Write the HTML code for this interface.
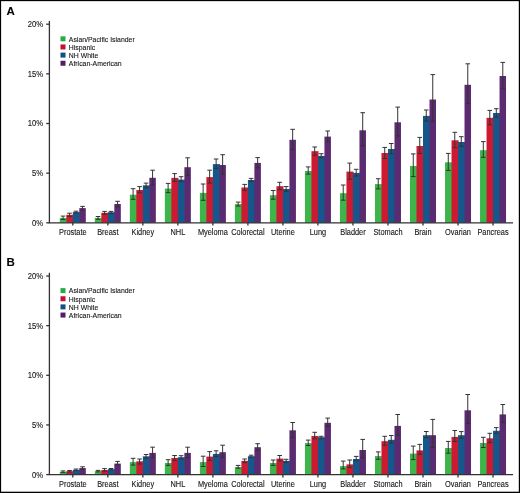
<!DOCTYPE html>
<html><head><meta charset="utf-8"><style>
html,body{margin:0;padding:0;background:#fff;}
body{width:520px;height:493px;overflow:hidden;}
svg{display:block;will-change:transform;}
text{font-family:"Liberation Sans",sans-serif;fill:#151515;stroke:#151515;stroke-width:0.1px;}
.xl{font-size:7.4px;text-anchor:middle;}
.yl{font-size:7.7px;text-anchor:end;}
.lg{font-size:6.9px;}
.pl{font-size:11.5px;font-weight:bold;fill:#000;}
.ax{stroke:#333;stroke-width:1.3;fill:none;}
.eb{stroke:#333;stroke-width:1.0;fill:none;}
</style></head><body>
<svg width="520" height="493" viewBox="0 0 520 493">
<rect x="0" y="0" width="520" height="1.15" fill="#000"/><rect x="0" y="0" width="1.1" height="493" fill="#000"/><rect x="518.8" y="0" width="1.2" height="493" fill="#000"/><rect x="0" y="491.7" width="520" height="1.3" fill="#000"/>
<text x="6.6" y="14.75" class="pl">A</text>
<rect x="59.80" y="217.90" width="7.10" height="4.90" fill="#3db54a"/>
<rect x="66.30" y="214.80" width="7.10" height="8.00" fill="#cc1a32"/>
<rect x="72.80" y="212.10" width="7.10" height="10.70" fill="#15578a"/>
<rect x="79.30" y="208.10" width="6.50" height="14.70" fill="#5c2a70"/>
<path d="M63.05 216.10V219.50M60.75 216.10H65.35M60.75 219.50H65.35" class="eb"/>
<path d="M69.55 213.20V216.40M67.25 213.20H71.85M67.25 216.40H71.85" class="eb"/>
<path d="M76.05 211.20V213.00M73.75 211.20H78.35M73.75 213.00H78.35" class="eb"/>
<path d="M82.55 206.40V210.20M80.25 206.40H84.85M80.25 210.20H84.85" class="eb"/>
<path d="M72.8 222.8V225.60000000000002" class="ax"/>
<text transform="translate(72.80 234.70) scale(1 1.1)" class="xl">Prostate</text>
<rect x="94.82" y="217.90" width="7.10" height="4.90" fill="#3db54a"/>
<rect x="101.32" y="212.80" width="7.10" height="10.00" fill="#cc1a32"/>
<rect x="107.82" y="212.20" width="7.10" height="10.60" fill="#15578a"/>
<rect x="114.32" y="204.00" width="6.50" height="18.80" fill="#5c2a70"/>
<path d="M98.07 216.50V219.30M95.77 216.50H100.37M95.77 219.30H100.37" class="eb"/>
<path d="M104.57 211.40V214.20M102.27 211.40H106.87M102.27 214.20H106.87" class="eb"/>
<path d="M111.07 211.40V213.60M108.77 211.40H113.37M108.77 213.60H113.37" class="eb"/>
<path d="M117.57 201.30V206.70M115.27 201.30H119.87M115.27 206.70H119.87" class="eb"/>
<path d="M107.82 222.8V225.60000000000002" class="ax"/>
<text transform="translate(107.82 234.70) scale(1 1.1)" class="xl">Breast</text>
<rect x="129.84" y="194.70" width="7.10" height="28.10" fill="#3db54a"/>
<rect x="136.34" y="190.00" width="7.10" height="32.80" fill="#cc1a32"/>
<rect x="142.84" y="185.30" width="7.10" height="37.50" fill="#15578a"/>
<rect x="149.34" y="177.80" width="6.50" height="45.00" fill="#5c2a70"/>
<path d="M133.09 188.70V199.30M130.79 188.70H135.39M130.79 199.30H135.39" class="eb"/>
<path d="M139.59 186.60V192.80M137.29 186.60H141.89M137.29 192.80H141.89" class="eb"/>
<path d="M146.09 183.10V187.70M143.79 183.10H148.39M143.79 187.70H148.39" class="eb"/>
<path d="M152.59 170.20V185.10M150.29 170.20H154.89M150.29 185.10H154.89" class="eb"/>
<path d="M142.84 222.8V225.60000000000002" class="ax"/>
<text transform="translate(142.84 234.70) scale(1 1.1)" class="xl">Kidney</text>
<rect x="164.86" y="188.60" width="7.10" height="34.20" fill="#3db54a"/>
<rect x="171.36" y="177.90" width="7.10" height="44.90" fill="#cc1a32"/>
<rect x="177.86" y="179.60" width="7.10" height="43.20" fill="#15578a"/>
<rect x="184.36" y="167.20" width="6.50" height="55.60" fill="#5c2a70"/>
<path d="M168.11 183.40V192.60M165.81 183.40H170.41M165.81 192.60H170.41" class="eb"/>
<path d="M174.61 173.60V181.40M172.31 173.60H176.91M172.31 181.40H176.91" class="eb"/>
<path d="M181.11 176.70V181.40M178.81 176.70H183.41M178.81 181.40H183.41" class="eb"/>
<path d="M187.61 157.80V175.50M185.31 157.80H189.91M185.31 175.50H189.91" class="eb"/>
<path d="M177.86 222.8V225.60000000000002" class="ax"/>
<text transform="translate(177.86 234.70) scale(1 1.1)" class="xl">NHL</text>
<rect x="199.88" y="192.90" width="7.10" height="29.90" fill="#3db54a"/>
<rect x="206.38" y="177.10" width="7.10" height="45.70" fill="#cc1a32"/>
<rect x="212.88" y="164.10" width="7.10" height="58.70" fill="#15578a"/>
<rect x="219.38" y="165.00" width="6.50" height="57.80" fill="#5c2a70"/>
<path d="M203.13 184.00V200.30M200.83 184.00H205.43M200.83 200.30H205.43" class="eb"/>
<path d="M209.63 170.20V183.10M207.33 170.20H211.93M207.33 183.10H211.93" class="eb"/>
<path d="M216.13 159.00V168.40M213.83 159.00H218.43M213.83 168.40H218.43" class="eb"/>
<path d="M222.63 154.70V174.00M220.33 154.70H224.93M220.33 174.00H224.93" class="eb"/>
<path d="M212.88 222.8V225.60000000000002" class="ax"/>
<text transform="translate(212.88 234.70) scale(1 1.1)" class="xl">Myeloma</text>
<rect x="234.90" y="204.10" width="7.10" height="18.70" fill="#3db54a"/>
<rect x="241.40" y="187.50" width="7.10" height="35.30" fill="#cc1a32"/>
<rect x="247.90" y="180.00" width="7.10" height="42.80" fill="#15578a"/>
<rect x="254.40" y="162.90" width="6.50" height="59.90" fill="#5c2a70"/>
<path d="M238.15 202.10V206.10M235.85 202.10H240.45M235.85 206.10H240.45" class="eb"/>
<path d="M244.65 184.40V190.30M242.35 184.40H246.95M242.35 190.30H246.95" class="eb"/>
<path d="M251.15 178.40V181.40M248.85 178.40H253.45M248.85 181.40H253.45" class="eb"/>
<path d="M257.65 157.60V167.80M255.35 157.60H259.95M255.35 167.80H259.95" class="eb"/>
<path d="M247.90000000000003 222.8V225.60000000000002" class="ax"/>
<text transform="translate(247.90 234.70) scale(1 1.1)" class="xl">Colorectal</text>
<rect x="269.92" y="195.20" width="7.10" height="27.60" fill="#3db54a"/>
<rect x="276.42" y="186.20" width="7.10" height="36.60" fill="#cc1a32"/>
<rect x="282.92" y="189.00" width="7.10" height="33.80" fill="#15578a"/>
<rect x="289.42" y="139.80" width="6.50" height="83.00" fill="#5c2a70"/>
<path d="M273.17 190.50V199.20M270.87 190.50H275.47M270.87 199.20H275.47" class="eb"/>
<path d="M279.67 182.30V189.70M277.37 182.30H281.97M277.37 189.70H281.97" class="eb"/>
<path d="M286.17 186.60V191.20M283.87 186.60H288.47M283.87 191.20H288.47" class="eb"/>
<path d="M292.67 129.30V149.60M290.37 129.30H294.97M290.37 149.60H294.97" class="eb"/>
<path d="M282.92 222.8V225.60000000000002" class="ax"/>
<text transform="translate(282.92 234.70) scale(1 1.1)" class="xl">Uterine</text>
<rect x="304.94" y="171.00" width="7.10" height="51.80" fill="#3db54a"/>
<rect x="311.44" y="151.20" width="7.10" height="71.60" fill="#cc1a32"/>
<rect x="317.94" y="155.90" width="7.10" height="66.90" fill="#15578a"/>
<rect x="324.44" y="136.60" width="6.50" height="86.20" fill="#5c2a70"/>
<path d="M308.19 166.90V174.10M305.89 166.90H310.49M305.89 174.10H310.49" class="eb"/>
<path d="M314.69 147.00V155.30M312.39 147.00H316.99M312.39 155.30H316.99" class="eb"/>
<path d="M321.19 153.70V157.80M318.89 153.70H323.49M318.89 157.80H323.49" class="eb"/>
<path d="M327.69 131.00V141.80M325.39 131.00H329.99M325.39 141.80H329.99" class="eb"/>
<path d="M317.94 222.8V225.60000000000002" class="ax"/>
<text transform="translate(317.94 234.70) scale(1 1.1)" class="xl">Lung</text>
<rect x="339.96" y="193.20" width="7.10" height="29.60" fill="#3db54a"/>
<rect x="346.46" y="171.60" width="7.10" height="51.20" fill="#cc1a32"/>
<rect x="352.96" y="172.90" width="7.10" height="49.90" fill="#15578a"/>
<rect x="359.46" y="130.30" width="6.50" height="92.50" fill="#5c2a70"/>
<path d="M343.21 185.00V200.20M340.91 185.00H345.51M340.91 200.20H345.51" class="eb"/>
<path d="M349.71 163.10V179.20M347.41 163.10H352.01M347.41 179.20H352.01" class="eb"/>
<path d="M356.21 169.30V176.00M353.91 169.30H358.51M353.91 176.00H358.51" class="eb"/>
<path d="M362.71 112.70V145.70M360.41 112.70H365.01M360.41 145.70H365.01" class="eb"/>
<path d="M352.96000000000004 222.8V225.60000000000002" class="ax"/>
<text transform="translate(352.96 234.70) scale(1 1.1)" class="xl">Bladder</text>
<rect x="374.98" y="184.10" width="7.10" height="38.70" fill="#3db54a"/>
<rect x="381.48" y="153.00" width="7.10" height="69.80" fill="#cc1a32"/>
<rect x="387.98" y="149.00" width="7.10" height="73.80" fill="#15578a"/>
<rect x="394.48" y="122.30" width="6.50" height="100.50" fill="#5c2a70"/>
<path d="M378.23 178.70V188.90M375.93 178.70H380.53M375.93 188.90H380.53" class="eb"/>
<path d="M384.73 147.40V158.50M382.43 147.40H387.03M382.43 158.50H387.03" class="eb"/>
<path d="M391.23 143.50V153.70M388.93 143.50H393.53M388.93 153.70H393.53" class="eb"/>
<path d="M397.73 107.10V136.00M395.43 107.10H400.03M395.43 136.00H400.03" class="eb"/>
<path d="M387.98 222.8V225.60000000000002" class="ax"/>
<text transform="translate(387.98 234.70) scale(1 1.1)" class="xl">Stomach</text>
<rect x="410.00" y="166.00" width="7.10" height="56.80" fill="#3db54a"/>
<rect x="416.50" y="146.00" width="7.10" height="76.80" fill="#cc1a32"/>
<rect x="423.00" y="115.90" width="7.10" height="106.90" fill="#15578a"/>
<rect x="429.50" y="99.50" width="6.50" height="123.30" fill="#5c2a70"/>
<path d="M413.25 153.90V176.60M410.95 153.90H415.55M410.95 176.60H415.55" class="eb"/>
<path d="M419.75 137.40V153.50M417.45 137.40H422.05M417.45 153.50H422.05" class="eb"/>
<path d="M426.25 110.00V121.00M423.95 110.00H428.55M423.95 121.00H428.55" class="eb"/>
<path d="M432.75 74.60V121.30M430.45 74.60H435.05M430.45 121.30H435.05" class="eb"/>
<path d="M423.00000000000006 222.8V225.60000000000002" class="ax"/>
<text transform="translate(423.00 234.70) scale(1 1.1)" class="xl">Brain</text>
<rect x="445.02" y="162.30" width="7.10" height="60.50" fill="#3db54a"/>
<rect x="451.52" y="140.30" width="7.10" height="82.50" fill="#cc1a32"/>
<rect x="458.02" y="142.00" width="7.10" height="80.80" fill="#15578a"/>
<rect x="464.52" y="84.80" width="6.50" height="138.00" fill="#5c2a70"/>
<path d="M448.27 153.40V170.40M445.97 153.40H450.57M445.97 170.40H450.57" class="eb"/>
<path d="M454.77 132.30V147.70M452.47 132.30H457.07M452.47 147.70H457.07" class="eb"/>
<path d="M461.27 136.70V146.30M458.97 136.70H463.57M458.97 146.30H463.57" class="eb"/>
<path d="M467.77 63.80V103.60M465.47 63.80H470.07M465.47 103.60H470.07" class="eb"/>
<path d="M458.02000000000004 222.8V225.60000000000002" class="ax"/>
<text transform="translate(458.02 234.70) scale(1 1.1)" class="xl">Ovarian</text>
<rect x="480.04" y="150.20" width="7.10" height="72.60" fill="#3db54a"/>
<rect x="486.54" y="117.80" width="7.10" height="105.00" fill="#cc1a32"/>
<rect x="493.04" y="113.00" width="7.10" height="109.80" fill="#15578a"/>
<rect x="499.54" y="76.00" width="6.50" height="146.80" fill="#5c2a70"/>
<path d="M483.29 141.60V157.30M480.99 141.60H485.59M480.99 157.30H485.59" class="eb"/>
<path d="M489.79 110.40V124.70M487.49 110.40H492.09M487.49 124.70H492.09" class="eb"/>
<path d="M496.29 108.70V117.10M493.99 108.70H498.59M493.99 117.10H498.59" class="eb"/>
<path d="M502.79 62.40V88.70M500.49 62.40H505.09M500.49 88.70H505.09" class="eb"/>
<path d="M493.04 222.8V225.60000000000002" class="ax"/>
<text transform="translate(493.04 234.70) scale(1 1.1)" class="xl">Pancreas</text>
<path d="M49.4 21V222.8H513" class="ax"/>
<path d="M46.199999999999996 222.80H49.4" class="ax"/>
<text transform="translate(43.20 225.70) scale(1 1.15)" class="yl">0%</text>
<path d="M46.199999999999996 173.15H49.4" class="ax"/>
<text transform="translate(43.20 176.05) scale(1 1.15)" class="yl">5%</text>
<path d="M46.199999999999996 123.50H49.4" class="ax"/>
<text transform="translate(43.20 126.40) scale(1 1.15)" class="yl">10%</text>
<path d="M46.199999999999996 73.85H49.4" class="ax"/>
<text transform="translate(43.20 76.75) scale(1 1.15)" class="yl">15%</text>
<path d="M46.199999999999996 24.20H49.4" class="ax"/>
<text transform="translate(43.20 27.10) scale(1 1.15)" class="yl">20%</text>
<rect x="60.5" y="36.30" width="5" height="5" fill="#28ab44"/>
<text transform="translate(68.80 41.60) scale(1 1.1)" class="lg">Asian/Pacific Islander</text>
<rect x="60.5" y="44.45" width="5" height="5" fill="#c80e30"/>
<text transform="translate(68.80 49.75) scale(1 1.1)" class="lg">Hispanic</text>
<rect x="60.5" y="52.60" width="5" height="5" fill="#124f86"/>
<text transform="translate(68.80 57.90) scale(1 1.1)" class="lg">NH White</text>
<rect x="60.5" y="60.75" width="5" height="5" fill="#501e6a"/>
<text transform="translate(68.80 66.05) scale(1 1.1)" class="lg">African-American</text>
<text x="6.6" y="265.9" class="pl">B</text>
<rect x="59.80" y="471.80" width="7.10" height="2.80" fill="#3db54a"/>
<rect x="66.30" y="471.20" width="7.10" height="3.40" fill="#cc1a32"/>
<rect x="72.80" y="469.80" width="7.10" height="4.80" fill="#15578a"/>
<rect x="79.30" y="468.10" width="6.50" height="6.50" fill="#5c2a70"/>
<path d="M63.05 470.90V472.40M60.75 470.90H65.35M60.75 472.40H65.35" class="eb"/>
<path d="M69.55 470.50V472.00M67.25 470.50H71.85M67.25 472.00H71.85" class="eb"/>
<path d="M76.05 469.00V470.50M73.75 469.00H78.35M73.75 470.50H78.35" class="eb"/>
<path d="M82.55 466.80V469.30M80.25 466.80H84.85M80.25 469.30H84.85" class="eb"/>
<path d="M72.8 474.6V477.40000000000003" class="ax"/>
<text transform="translate(72.80 486.50) scale(1 1.1)" class="xl">Prostate</text>
<rect x="94.82" y="471.20" width="7.10" height="3.40" fill="#3db54a"/>
<rect x="101.32" y="470.00" width="7.10" height="4.60" fill="#cc1a32"/>
<rect x="107.82" y="469.20" width="7.10" height="5.40" fill="#15578a"/>
<rect x="114.32" y="463.60" width="6.50" height="11.00" fill="#5c2a70"/>
<path d="M98.07 470.40V471.90M95.77 470.40H100.37M95.77 471.90H100.37" class="eb"/>
<path d="M104.57 468.60V471.20M102.27 468.60H106.87M102.27 471.20H106.87" class="eb"/>
<path d="M111.07 468.50V469.90M108.77 468.50H113.37M108.77 469.90H113.37" class="eb"/>
<path d="M117.57 461.40V465.00M115.27 461.40H119.87M115.27 465.00H119.87" class="eb"/>
<path d="M107.82 474.6V477.40000000000003" class="ax"/>
<text transform="translate(107.82 486.50) scale(1 1.1)" class="xl">Breast</text>
<rect x="129.84" y="462.10" width="7.10" height="12.50" fill="#3db54a"/>
<rect x="136.34" y="461.30" width="7.10" height="13.30" fill="#cc1a32"/>
<rect x="142.84" y="456.30" width="7.10" height="18.30" fill="#15578a"/>
<rect x="149.34" y="452.90" width="6.50" height="21.70" fill="#5c2a70"/>
<path d="M133.09 458.30V465.10M130.79 458.30H135.39M130.79 465.10H135.39" class="eb"/>
<path d="M139.59 459.00V464.00M137.29 459.00H141.89M137.29 464.00H141.89" class="eb"/>
<path d="M146.09 454.50V458.30M143.79 454.50H148.39M143.79 458.30H148.39" class="eb"/>
<path d="M152.59 447.20V457.60M150.29 447.20H154.89M150.29 457.60H154.89" class="eb"/>
<path d="M142.84 474.6V477.40000000000003" class="ax"/>
<text transform="translate(142.84 486.50) scale(1 1.1)" class="xl">Kidney</text>
<rect x="164.86" y="463.00" width="7.10" height="11.60" fill="#3db54a"/>
<rect x="171.36" y="458.00" width="7.10" height="16.60" fill="#cc1a32"/>
<rect x="177.86" y="457.20" width="7.10" height="17.40" fill="#15578a"/>
<rect x="184.36" y="452.90" width="6.50" height="21.70" fill="#5c2a70"/>
<path d="M168.11 459.70V465.40M165.81 459.70H170.41M165.81 465.40H170.41" class="eb"/>
<path d="M174.61 455.50V460.40M172.31 455.50H176.91M172.31 460.40H176.91" class="eb"/>
<path d="M181.11 455.70V459.00M178.81 455.70H183.41M178.81 459.00H183.41" class="eb"/>
<path d="M187.61 447.20V457.60M185.31 447.20H189.91M185.31 457.60H189.91" class="eb"/>
<path d="M177.86 474.6V477.40000000000003" class="ax"/>
<text transform="translate(177.86 486.50) scale(1 1.1)" class="xl">NHL</text>
<rect x="199.88" y="462.10" width="7.10" height="12.50" fill="#3db54a"/>
<rect x="206.38" y="456.60" width="7.10" height="18.00" fill="#cc1a32"/>
<rect x="212.88" y="453.90" width="7.10" height="20.70" fill="#15578a"/>
<rect x="219.38" y="452.20" width="6.50" height="22.40" fill="#5c2a70"/>
<path d="M203.13 456.20V466.50M200.83 456.20H205.43M200.83 466.50H205.43" class="eb"/>
<path d="M209.63 451.60V460.40M207.33 451.60H211.93M207.33 460.40H211.93" class="eb"/>
<path d="M216.13 450.80V456.60M213.83 450.80H218.43M213.83 456.60H218.43" class="eb"/>
<path d="M222.63 445.20V457.30M220.33 445.20H224.93M220.33 457.30H224.93" class="eb"/>
<path d="M212.88 474.6V477.40000000000003" class="ax"/>
<text transform="translate(212.88 486.50) scale(1 1.1)" class="xl">Myeloma</text>
<rect x="234.90" y="467.10" width="7.10" height="7.50" fill="#3db54a"/>
<rect x="241.40" y="460.90" width="7.10" height="13.70" fill="#cc1a32"/>
<rect x="247.90" y="456.20" width="7.10" height="18.40" fill="#15578a"/>
<rect x="254.40" y="447.20" width="6.50" height="27.40" fill="#5c2a70"/>
<path d="M238.15 465.40V468.20M235.85 465.40H240.45M235.85 468.20H240.45" class="eb"/>
<path d="M244.65 459.00V462.60M242.35 459.00H246.95M242.35 462.60H246.95" class="eb"/>
<path d="M251.15 455.20V457.30M248.85 455.20H253.45M248.85 457.30H253.45" class="eb"/>
<path d="M257.65 443.70V450.50M255.35 443.70H259.95M255.35 450.50H259.95" class="eb"/>
<path d="M247.90000000000003 474.6V477.40000000000003" class="ax"/>
<text transform="translate(247.90 486.50) scale(1 1.1)" class="xl">Colorectal</text>
<rect x="269.92" y="463.00" width="7.10" height="11.60" fill="#3db54a"/>
<rect x="276.42" y="458.60" width="7.10" height="16.00" fill="#cc1a32"/>
<rect x="282.92" y="460.90" width="7.10" height="13.70" fill="#15578a"/>
<rect x="289.42" y="430.30" width="6.50" height="44.30" fill="#5c2a70"/>
<path d="M273.17 460.00V465.40M270.87 460.00H275.47M270.87 465.40H275.47" class="eb"/>
<path d="M279.67 455.50V460.90M277.37 455.50H281.97M277.37 460.90H281.97" class="eb"/>
<path d="M286.17 459.30V462.30M283.87 459.30H288.47M283.87 462.30H288.47" class="eb"/>
<path d="M292.67 422.50V437.30M290.37 422.50H294.97M290.37 437.30H294.97" class="eb"/>
<path d="M282.92 474.6V477.40000000000003" class="ax"/>
<text transform="translate(282.92 486.50) scale(1 1.1)" class="xl">Uterine</text>
<rect x="304.94" y="443.10" width="7.10" height="31.50" fill="#3db54a"/>
<rect x="311.44" y="436.00" width="7.10" height="38.60" fill="#cc1a32"/>
<rect x="317.94" y="437.20" width="7.10" height="37.40" fill="#15578a"/>
<rect x="324.44" y="422.80" width="6.50" height="51.80" fill="#5c2a70"/>
<path d="M308.19 440.10V445.50M305.89 440.10H310.49M305.89 445.50H310.49" class="eb"/>
<path d="M314.69 432.30V438.80M312.39 432.30H316.99M312.39 438.80H316.99" class="eb"/>
<path d="M321.19 436.30V438.80M318.89 436.30H323.49M318.89 438.80H323.49" class="eb"/>
<path d="M327.69 418.10V426.30M325.39 418.10H329.99M325.39 426.30H329.99" class="eb"/>
<path d="M317.94 474.6V477.40000000000003" class="ax"/>
<text transform="translate(317.94 486.50) scale(1 1.1)" class="xl">Lung</text>
<rect x="339.96" y="466.10" width="7.10" height="8.50" fill="#3db54a"/>
<rect x="346.46" y="464.40" width="7.10" height="10.20" fill="#cc1a32"/>
<rect x="352.96" y="459.00" width="7.10" height="15.60" fill="#15578a"/>
<rect x="359.46" y="450.00" width="6.50" height="24.60" fill="#5c2a70"/>
<path d="M343.21 461.10V468.90M340.91 461.10H345.51M340.91 468.90H345.51" class="eb"/>
<path d="M349.71 460.00V467.50M347.41 460.00H352.01M347.41 467.50H352.01" class="eb"/>
<path d="M356.21 456.40V460.70M353.91 456.40H358.51M353.91 460.70H358.51" class="eb"/>
<path d="M362.71 439.40V457.80M360.41 439.40H365.01M360.41 457.80H365.01" class="eb"/>
<path d="M352.96000000000004 474.6V477.40000000000003" class="ax"/>
<text transform="translate(352.96 486.50) scale(1 1.1)" class="xl">Bladder</text>
<rect x="374.98" y="456.10" width="7.10" height="18.50" fill="#3db54a"/>
<rect x="381.48" y="441.20" width="7.10" height="33.40" fill="#cc1a32"/>
<rect x="387.98" y="439.80" width="7.10" height="34.80" fill="#15578a"/>
<rect x="394.48" y="425.90" width="6.50" height="48.70" fill="#5c2a70"/>
<path d="M378.23 451.90V459.30M375.93 451.90H380.53M375.93 459.30H380.53" class="eb"/>
<path d="M384.73 436.30V445.20M382.43 436.30H387.03M382.43 445.20H387.03" class="eb"/>
<path d="M391.23 435.50V443.10M388.93 435.50H393.53M388.93 443.10H393.53" class="eb"/>
<path d="M397.73 414.50V435.30M395.43 414.50H400.03M395.43 435.30H400.03" class="eb"/>
<path d="M387.98 474.6V477.40000000000003" class="ax"/>
<text transform="translate(387.98 486.50) scale(1 1.1)" class="xl">Stomach</text>
<rect x="410.00" y="453.60" width="7.10" height="21.00" fill="#3db54a"/>
<rect x="416.50" y="450.40" width="7.10" height="24.20" fill="#cc1a32"/>
<rect x="423.00" y="435.20" width="7.10" height="39.40" fill="#15578a"/>
<rect x="429.50" y="435.20" width="6.50" height="39.40" fill="#5c2a70"/>
<path d="M413.25 446.10V459.60M410.95 446.10H415.55M410.95 459.60H415.55" class="eb"/>
<path d="M419.75 444.40V454.30M417.45 444.40H422.05M417.45 454.30H422.05" class="eb"/>
<path d="M426.25 431.50V437.60M423.95 431.50H428.55M423.95 437.60H428.55" class="eb"/>
<path d="M432.75 419.40V447.50M430.45 419.40H435.05M430.45 447.50H435.05" class="eb"/>
<path d="M423.00000000000006 474.6V477.40000000000003" class="ax"/>
<text transform="translate(423.00 486.50) scale(1 1.1)" class="xl">Brain</text>
<rect x="445.02" y="448.00" width="7.10" height="26.60" fill="#3db54a"/>
<rect x="451.52" y="436.90" width="7.10" height="37.70" fill="#cc1a32"/>
<rect x="458.02" y="435.20" width="7.10" height="39.40" fill="#15578a"/>
<rect x="464.52" y="410.30" width="6.50" height="64.30" fill="#5c2a70"/>
<path d="M448.27 441.40V453.20M445.97 441.40H450.57M445.97 453.20H450.57" class="eb"/>
<path d="M454.77 430.50V441.40M452.47 430.50H457.07M452.47 441.40H457.07" class="eb"/>
<path d="M461.27 431.60V438.30M458.97 431.60H463.57M458.97 438.30H463.57" class="eb"/>
<path d="M467.77 394.50V423.40M465.47 394.50H470.07M465.47 423.40H470.07" class="eb"/>
<path d="M458.02000000000004 474.6V477.40000000000003" class="ax"/>
<text transform="translate(458.02 486.50) scale(1 1.1)" class="xl">Ovarian</text>
<rect x="480.04" y="443.00" width="7.10" height="31.60" fill="#3db54a"/>
<rect x="486.54" y="438.30" width="7.10" height="36.30" fill="#cc1a32"/>
<rect x="493.04" y="430.80" width="7.10" height="43.80" fill="#15578a"/>
<rect x="499.54" y="414.40" width="6.50" height="60.20" fill="#5c2a70"/>
<path d="M483.29 437.30V447.50M480.99 437.30H485.59M480.99 447.50H485.59" class="eb"/>
<path d="M489.79 433.30V442.60M487.49 433.30H492.09M487.49 442.60H492.09" class="eb"/>
<path d="M496.29 427.60V433.30M493.99 427.60H498.59M493.99 433.30H498.59" class="eb"/>
<path d="M502.79 404.50V422.40M500.49 404.50H505.09M500.49 422.40H505.09" class="eb"/>
<path d="M493.04 474.6V477.40000000000003" class="ax"/>
<text transform="translate(493.04 486.50) scale(1 1.1)" class="xl">Pancreas</text>
<path d="M49.4 272.8V474.6H513" class="ax"/>
<path d="M46.199999999999996 474.60H49.4" class="ax"/>
<text transform="translate(43.20 477.50) scale(1 1.15)" class="yl">0%</text>
<path d="M46.199999999999996 424.95H49.4" class="ax"/>
<text transform="translate(43.20 427.85) scale(1 1.15)" class="yl">5%</text>
<path d="M46.199999999999996 375.30H49.4" class="ax"/>
<text transform="translate(43.20 378.20) scale(1 1.15)" class="yl">10%</text>
<path d="M46.199999999999996 325.65H49.4" class="ax"/>
<text transform="translate(43.20 328.55) scale(1 1.15)" class="yl">15%</text>
<path d="M46.199999999999996 276.00H49.4" class="ax"/>
<text transform="translate(43.20 278.90) scale(1 1.15)" class="yl">20%</text>
<rect x="60.5" y="288.10" width="5" height="5" fill="#28ab44"/>
<text transform="translate(68.80 293.40) scale(1 1.1)" class="lg">Asian/Pacific Islander</text>
<rect x="60.5" y="296.25" width="5" height="5" fill="#c80e30"/>
<text transform="translate(68.80 301.55) scale(1 1.1)" class="lg">Hispanic</text>
<rect x="60.5" y="304.40" width="5" height="5" fill="#124f86"/>
<text transform="translate(68.80 309.70) scale(1 1.1)" class="lg">NH White</text>
<rect x="60.5" y="312.55" width="5" height="5" fill="#501e6a"/>
<text transform="translate(68.80 317.85) scale(1 1.1)" class="lg">African-American</text>
</svg>
</body></html>
